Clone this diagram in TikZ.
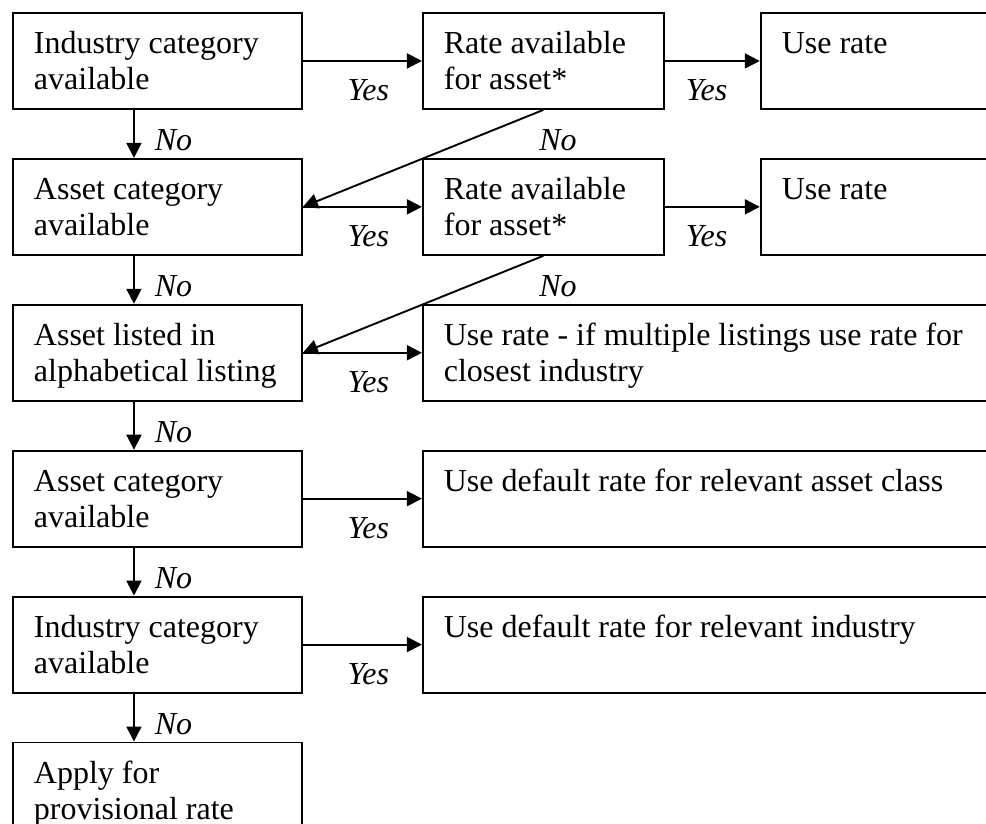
\documentclass[tikz,border=0pt]{standalone}
\usepackage{fontspec}
\setmainfont{Liberation Serif}
\usetikzlibrary{positioning,arrows.meta}

\begin{document}
\begin{tikzpicture}[x=1pt, y=-1pt, line width=1.9pt,
	every node/.style={font=\fontsize{32}{36}\selectfont},
	box/.style={draw, rectangle, anchor=north west, align=flush left,
		inner xsep=21pt, inner ysep=0pt, text height=41pt, text depth=55pt},
	arr/.style={-{Triangle[length=15pt,width=15pt]}},
	lbl/.style={font=\fontsize{32}{36}\selectfont\itshape, inner sep=0pt}]
	\path[use as bounding box, clip] (0,0) rectangle (986,823);

	% left column
	\node[box, text width=247pt] (ind1) at (12,12) {Industry category\\available};
	\node[box, text width=247pt, below=48pt of ind1] (ast1) {Asset category\\available};
	\node[box, text width=247pt, below=48pt of ast1] (lst1) {Asset listed in\\alphabetical listing};
	\node[box, text width=247pt, below=48pt of lst1] (ast2) {Asset category\\available};
	\node[box, text width=247pt, below=48pt of ast2] (ind2) {Industry category\\available};
	\node[box, text width=247pt, below=48pt of ind2] (prov) {Apply for\\provisional rate};

	% middle and right
	\node[box, text width=199pt, right=119pt of ind1] (rate1) {Rate available\\for asset*};
	\node[box, text width=199pt, right=119pt of ast1] (rate2) {Rate available\\for asset*};
	\node[box, text width=240pt, right=95pt of rate1] (use1) {Use rate};
	\node[box, text width=240pt, right=95pt of rate2] (use2) {Use rate};
	\node[box, text width=540pt, right=119pt of lst1] (uselst) {Use rate - if multiple listings use rate for\\closest industry};
	\node[box, text width=540pt, right=119pt of ast2] (defast) {Use default rate for relevant asset class};
	\node[box, text width=540pt, right=119pt of ind2] (defind) {Use default rate for relevant industry};

	\foreach \a/\b in {ind1/ast1, ast1/lst1, lst1/ast2, ast2/ind2, ind2/prov}
		\draw[arr] ([xshift=-23.5pt]\a.south) -- ([xshift=-23.5pt]\b.north)
			node[lbl, anchor=base west, xshift=20pt, yshift=7pt] {No};

	\foreach \a/\b in {ind1/rate1, ast1/rate2, lst1/uselst, ast2/defast, ind2/defind}
		\draw[arr] (\a.east) -- (\b.west)
			node[lbl, pos=.55, anchor=base, yshift=-40pt] {Yes};

	\foreach \a/\b in {rate1/use1, rate2/use2}
		\draw[arr] (\a.east) -- (\b.west)
			node[lbl, pos=.44, anchor=base, yshift=-40pt] {Yes};

	\draw[arr] (rate1.south) node[lbl, anchor=base west, xshift=-5pt, yshift=-41pt] {No} -- (ast1.east);
	\draw[arr] (rate2.south) node[lbl, anchor=base west, xshift=-5pt, yshift=-41pt] {No} -- (lst1.east);

\end{tikzpicture}
\end{document}
